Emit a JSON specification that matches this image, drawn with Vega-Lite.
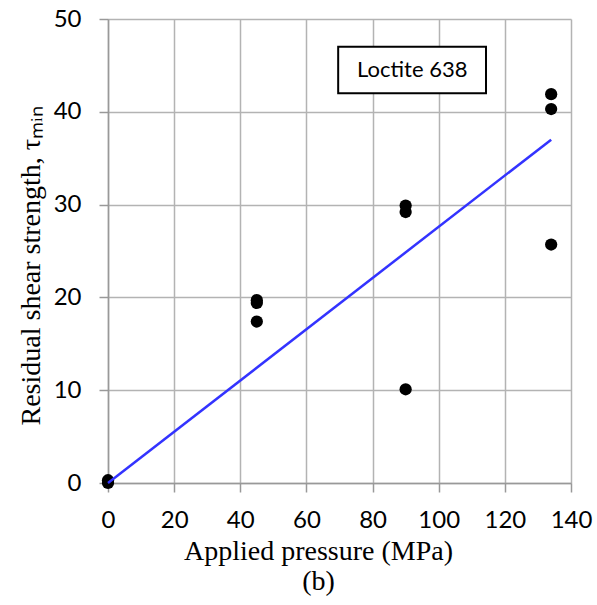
{
  "$schema": "https://vega.github.io/schema/vega-lite/v6.json",
  "width": 463,
  "height": 464,
  "autosize": "none",
  "padding": {"left": 108, "top": 19, "right": 26, "bottom": 122},
  "background": "white",
  "config": {"view": {"stroke": null}},
  "datasets": {
    "pts": [
      {"p": 0, "t": 0.0},
      {"p": 0, "t": 0.3},
      {"p": 45, "t": 19.7},
      {"p": 45, "t": 19.4},
      {"p": 45, "t": 17.4},
      {"p": 90, "t": 29.9},
      {"p": 90, "t": 29.2},
      {"p": 90, "t": 10.1},
      {"p": 134, "t": 41.9},
      {"p": 134, "t": 40.3},
      {"p": 134, "t": 25.7}
    ],
    "fit": [
      {"p": 0, "t": 0},
      {"p": 134, "t": 37.0}
    ],
    "box": [
      {"x1": 69.6, "x2": 114.3, "y1": 42.0, "y2": 47.0, "xm": 92, "ym": 44.5, "label": "Loctite 638"}
    ]
  },
  "layer": [
    {
      "data": {"name": "pts"},
      "mark": {"type": "point", "filled": true, "color": "black", "opacity": 1, "size": 150},
      "encoding": {
        "x": {
          "field": "p", "type": "quantitative",
          "scale": {"domain": [0, 140], "nice": false},
          "axis": {
            "values": [0, 20, 40, 60, 80, 100, 120, 140],
            "title": ["Applied pressure (MPa)", "(b)"],
            "titleFont": "Liberation Serif", "titleFontSize": 28, "titleFontWeight": "normal",
            "titleColor": "black", "titlePadding": 5, "titleLineHeight": 30, "titleX": 210,
            "labelFont": "Lato", "labelFontSize": 24, "labelColor": "black", "labelPadding": 16,
            "labelFlush": false, "labelOverlap": false,
            "tickSize": 9, "tickColor": "#999999", "tickWidth": 1.5,
            "domainColor": "#999999", "domainWidth": 1.5,
            "grid": true, "gridColor": "#b3b3b3", "gridWidth": 1.5
          }
        },
        "y": {
          "field": "t", "type": "quantitative",
          "scale": {"domain": [0, 50], "nice": false},
          "axis": {
            "values": [0, 10, 20, 30, 40, 50],
            "title": "Residual shear strength, τₘᵢₙ",
            "titleFont": "Liberation Serif", "titleFontSize": 28, "titleFontWeight": "normal",
            "titleColor": "black", "titlePadding": 8,
            "titleAnchor": "start", "titleAlign": "left", "titleY": 406,
            "labelFont": "Lato", "labelFontSize": 24, "labelColor": "black", "labelPadding": 18,
            "labelFlush": false, "labelOverlap": false,
            "tickSize": 9, "tickColor": "#999999", "tickWidth": 1.5,
            "domainColor": "#999999", "domainWidth": 1.5,
            "grid": true, "gridColor": "#b3b3b3", "gridWidth": 1.5
          }
        }
      }
    },
    {
      "data": {"name": "fit"},
      "mark": {"type": "line", "color": "#3333ff", "strokeWidth": 2.5},
      "encoding": {
        "x": {"field": "p", "type": "quantitative"},
        "y": {"field": "t", "type": "quantitative"}
      }
    },
    {
      "data": {"name": "box"},
      "mark": {"type": "rect", "fill": "white", "stroke": "black", "strokeWidth": 2},
      "encoding": {
        "x": {"field": "x1", "type": "quantitative"},
        "x2": {"field": "x2"},
        "y": {"field": "y1", "type": "quantitative"},
        "y2": {"field": "y2"}
      }
    },
    {
      "data": {"name": "box"},
      "mark": {"type": "text", "font": "Lato", "fontSize": 22, "color": "black", "align": "center", "baseline": "middle"},
      "encoding": {
        "x": {"field": "xm", "type": "quantitative"},
        "y": {"field": "ym", "type": "quantitative"},
        "text": {"field": "label"}
      }
    }
  ]
}
